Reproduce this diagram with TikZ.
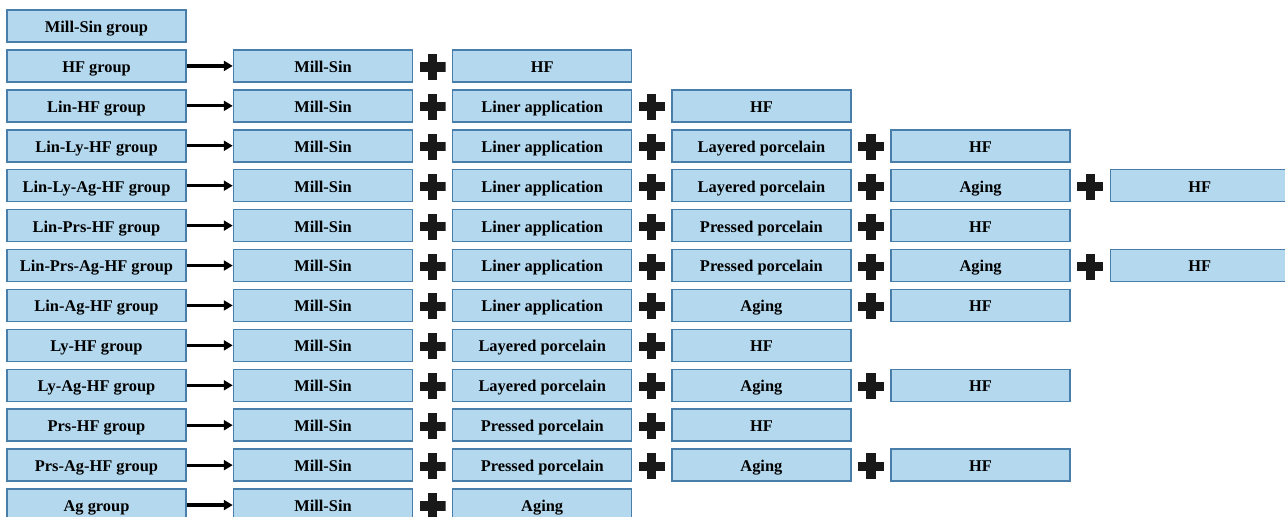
\documentclass[tikz,border=0pt]{standalone}
\usepackage{fontspec}
\setmainfont{Liberation Serif}
\usetikzlibrary{arrows.meta}

\definecolor{cajaazul}{RGB}{180,217,239}
\definecolor{bordeazul}{RGB}{74,126,170}

\begin{document}
\begin{tikzpicture}[x=0.5pt, y=-0.5pt,
							caja/.style={draw=bordeazul, line width=0.75pt, fill=cajaazul, minimum width=89.5pt, minimum height=16pt, inner sep=0pt, text height=6.4pt, text depth=0pt, font=\fontsize{8.2}{9}\selectfont\bfseries},
							mas/.style={minimum size=13pt, inner sep=0pt, path picture={
								\fill[black!90] ([xshift=-6.5pt,yshift=-2.3pt]path picture bounding box.center) rectangle ([xshift=6.5pt,yshift=2.3pt]path picture bounding box.center);
								\fill[black!90] ([xshift=-2.3pt,yshift=-6.5pt]path picture bounding box.center) rectangle ([xshift=2.3pt,yshift=6.5pt]path picture bounding box.center);}},
							flecha/.style={-{Triangle[length=4.5pt,width=5pt]}, line width=1.6pt}
							]
							\useasboundingbox (0,0) rectangle (1285,516);
							
							% Grupo de control, sin pasos
							\node[caja] (g0) at (96.5,26) {Mill-Sin group};
							
							% Grupos: nombre y pasos en orden
							\foreach \i/\grupo/\pasos in {
								1/HF group/{Mill-Sin,HF},
								2/Lin-HF group/{Mill-Sin,Liner application,HF},
								3/Lin-Ly-HF group/{Mill-Sin,Liner application,Layered porcelain,HF},
								4/Lin-Ly-Ag-HF group/{Mill-Sin,Liner application,Layered porcelain,Aging,HF},
								5/Lin-Prs-HF group/{Mill-Sin,Liner application,Pressed porcelain,HF},
								6/Lin-Prs-Ag-HF group/{Mill-Sin,Liner application,Pressed porcelain,Aging,HF},
								7/Lin-Ag-HF group/{Mill-Sin,Liner application,Aging,HF},
								8/Ly-HF group/{Mill-Sin,Layered porcelain,HF},
								9/Ly-Ag-HF group/{Mill-Sin,Layered porcelain,Aging,HF},
								10/Prs-HF group/{Mill-Sin,Pressed porcelain,HF},
								11/Prs-Ag-HF group/{Mill-Sin,Pressed porcelain,Aging,HF},
								12/Ag group/{Mill-Sin,Aging}} {
								\node[caja] (g\i) at ({96.5}, {26+39.92*\i}) {\grupo};
								\foreach \p [count=\j] in \pasos {
									\node[caja] (p\i-\j) at ({323+219.2*(\j-1)}, {26+39.92*\i}) {\p};
									% signo + entre dos pasos seguidos
									\ifnum\j>1
										\node[mas] (m\i-\j) at ({323+219.2*(\j-1)-109.6}, {26+39.92*\i+1}) {};
									\fi
								}
								\draw[flecha] (g\i) -- (p\i-1);
							}
						\end{tikzpicture}
\end{document}
